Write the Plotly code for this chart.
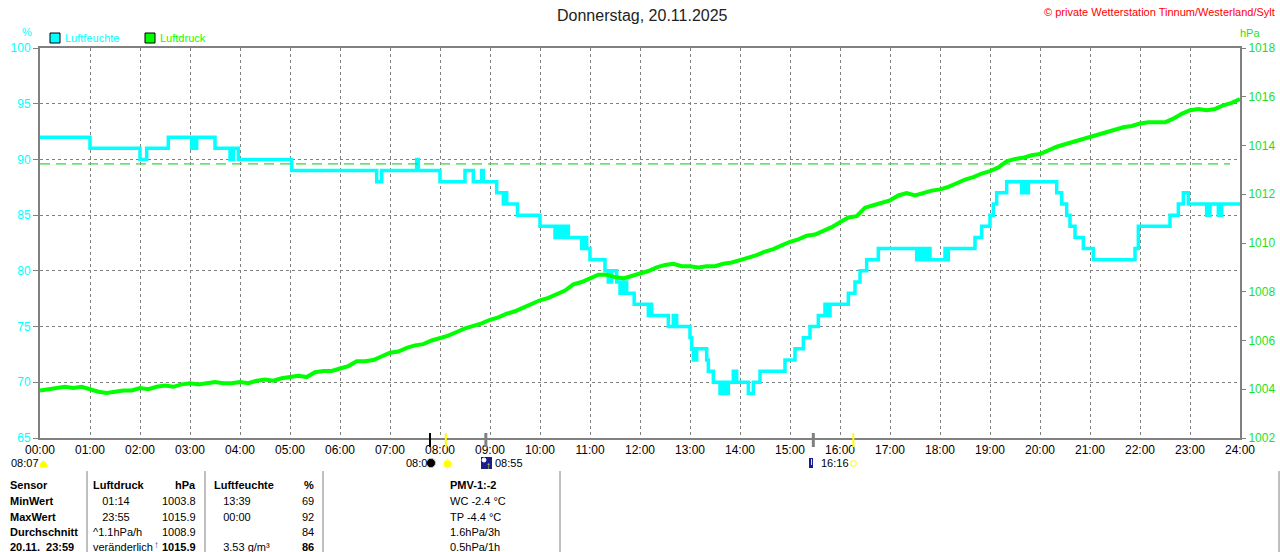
import plotly.graph_objects as go

# Luftfeuchte in % - Zeitpunkt des Wechsels und neuer Wert (Treppenkurve)
hum_time = ["00:00", "01:00", "02:00", "02:08", "02:34", "03:02", "03:04", "03:06", "03:08",
            "03:30", "03:48", "03:52", "03:58", "05:02", "06:44", "06:50", "07:32", "07:34",
            "08:00", "08:30", "08:40", "08:50", "08:52", "09:08", "09:16", "09:18", "09:20",
            "09:33", "10:00", "10:18", "10:22", "10:26", "10:30", "10:34", "10:46", "10:50",
            "10:52", "10:56", "11:00", "11:04", "11:18", "11:22", "11:26", "11:32", "11:36",
            "11:40", "11:44", "11:50", "11:53", "11:58", "12:10", "12:12", "12:14", "12:34",
            "12:40", "12:44", "12:52", "13:00", "13:02", "13:04", "13:08", "13:12", "13:20",
            "13:22", "13:28", "13:30", "13:36", "13:40", "13:42", "13:46", "13:52", "13:56",
            "14:10", "14:16", "14:20", "14:24", "14:54", "15:06", "15:16", "15:24", "15:34",
            "15:42", "15:44", "15:48", "16:10", "16:18", "16:24", "16:32", "16:46", "17:32",
            "17:36", "17:40", "17:44", "17:48", "18:06", "18:08", "18:10", "18:42", "18:50",
            "19:00", "19:04", "19:08", "19:20", "19:38", "19:40", "19:44", "19:46", "20:20",
            "20:26", "20:32", "20:36", "20:42", "20:52", "21:04", "21:54", "21:58", "22:02",
            "22:36", "22:46", "22:52", "22:58", "23:20", "23:24", "23:34", "23:38", "24:00"]
hum_val = [92, 91, 90, 91, 92, 91, 92, 91, 92,
           91, 90, 91, 90, 89, 88, 89, 90, 89,
           88, 89, 88, 89, 88, 87, 86, 87, 86,
           85, 84, 83, 84, 83, 84, 83, 83, 82,
           83, 82, 81, 81, 80, 79, 80, 79, 78,
           79, 78, 78, 77, 77, 76, 77, 76, 75,
           76, 75, 75, 74, 73, 72, 73, 73, 72,
           71, 70, 70, 69, 70, 69, 70, 71, 70,
           69, 70, 70, 71, 72, 73, 74, 75, 76,
           77, 76, 77, 78, 79, 80, 81, 82, 81,
           82, 81, 82, 81, 82, 81, 82, 83, 84,
           85, 86, 87, 88, 87, 88, 87, 88, 87,
           86, 85, 84, 83, 82, 81, 82, 84, 84,
           85, 86, 87, 86, 85, 86, 85, 86, 86]

pres_val = [1003.95, 1004.00, 1004.05, 1004.10, 1004.05, 1004.10,
            1004.00, 1003.90, 1003.85, 1003.90, 1003.95, 1003.95,
            1004.05, 1004.00, 1004.10, 1004.15, 1004.10, 1004.20,
            1004.25, 1004.20, 1004.25, 1004.30, 1004.25, 1004.25,
            1004.30, 1004.25, 1004.35, 1004.40, 1004.35, 1004.45,
            1004.50, 1004.55, 1004.50, 1004.70, 1004.75, 1004.75,
            1004.85, 1004.95, 1005.15, 1005.15, 1005.20, 1005.35,
            1005.50, 1005.55, 1005.70, 1005.80, 1005.85, 1006.00,
            1006.10, 1006.20, 1006.35, 1006.50, 1006.60, 1006.70,
            1006.85, 1006.95, 1007.10, 1007.20, 1007.35, 1007.50,
            1007.65, 1007.75, 1007.90, 1008.05, 1008.30, 1008.40,
            1008.55, 1008.70, 1008.70, 1008.60, 1008.55, 1008.65,
            1008.75, 1008.85, 1009.00, 1009.10, 1009.15, 1009.05,
            1009.05, 1009.00, 1009.05, 1009.05, 1009.15, 1009.20,
            1009.30, 1009.40, 1009.50, 1009.65, 1009.75, 1009.90,
            1010.05, 1010.15, 1010.30, 1010.35, 1010.50, 1010.65,
            1010.85, 1011.05, 1011.10, 1011.45, 1011.55, 1011.65,
            1011.75, 1011.95, 1012.05, 1011.95, 1012.05, 1012.15,
            1012.20, 1012.30, 1012.45, 1012.60, 1012.70, 1012.85,
            1012.95, 1013.10, 1013.35, 1013.45, 1013.50, 1013.60,
            1013.65, 1013.80, 1013.95, 1014.05, 1014.15, 1014.25,
            1014.35, 1014.45, 1014.55, 1014.65, 1014.75, 1014.80,
            1014.90, 1014.95, 1014.95, 1014.95, 1015.10, 1015.30,
            1015.45, 1015.50, 1015.45, 1015.50, 1015.65, 1015.75,
            1015.90]
pres_time = ["%02d:%02d" % (i // 6, (i % 6) * 10) for i in range(len(pres_val))]

# Normaldruck-Linie
ref_time = ["00:00", "23:48"]
ref_val = [1013.25, 1013.25]

# Ereignisse an der Zeitachse (Mond/Sonne)
event_time = ["07:48", "08:07", "08:55", "15:28", "16:16"]
event_color = ["black", "#ffff00", "#808080", "#808080", "#ffff00"]
event_width = [2, 2, 3, 3, 2]

x_ticks = ["%02d:00" % h for h in range(25)]

# Tabelle unten
row_label = ["Sensor", "MinWert", "MaxWert", "Durchschnitt", "20.11.  23:59"]
druck_info = ["Luftdruck", "  01:14", "  23:55", "^1.1hPa/h", "veränderlich"]
druck_val = ["hPa", "1003.8", "1015.9", "1008.9", "1015.9"]
feuchte_info = ["Luftfeuchte", "  13:39", "  00:00", "", "  3.53 g/m³"]
feuchte_val = ["%", "69", "92", "84", "86"]
extra_info = ["PMV-1:-2", "WC -2.4 °C", "TP -4.4 °C", "1.6hPa/3h", "0.5hPa/1h"]


def hours(t):
    h, m = t.split(":")
    return int(h) + int(m) / 60


def px(x):
    return (x - 40) / 1200


def py(y):
    return (438 - y) / 390


FONT = "Liberation Sans, Arial, sans-serif"
CYAN = "#00ffff"
GREEN = "#00ff00"
GREEN_TXT = "#1fe01f"
GRAY = "#808080"

fig = go.Figure()

fig.add_trace(go.Scatter(x=[hours(t) for t in ref_time], y=ref_val, yaxis="y2", mode="lines",
                         line=dict(color="#33dd33", width=1.3, dash="10px,6px"),
                         hoverinfo="skip", showlegend=False))
fig.add_trace(go.Scatter(x=[hours(t) for t in pres_time], y=pres_val, yaxis="y2", mode="lines",
                         line=dict(color=GREEN, width=4), name="Luftdruck",
                         showlegend=False))
fig.add_trace(go.Scatter(x=[hours(t) for t in hum_time], y=hum_val, mode="lines",
                         line=dict(color=CYAN, width=3.5, shape="hv"), name="Luftfeuchte",
                         showlegend=False))

fig.update_layout(
    width=1280, height=552,
    margin=dict(l=40, r=40, t=48, b=114),
    paper_bgcolor="white", plot_bgcolor="white",
    font=dict(family=FONT, size=11, color="black"),
    xaxis=dict(range=[0, 24], tickvals=list(range(25)), ticktext=x_ticks,
               showgrid=True, gridcolor=GRAY, griddash="3px,3px", gridwidth=1,
               showline=True, linecolor=GRAY, linewidth=2, mirror=True,
               ticks="", tickfont=dict(size=12, color="black"), zeroline=False,
               automargin=False),
    yaxis=dict(range=[65, 100], dtick=5, showgrid=True, gridcolor=GRAY, griddash="3px,3px",
               gridwidth=1, showline=True, linecolor=GRAY, linewidth=2, mirror=True,
               ticks="outside", ticklen=5, tickcolor=GRAY, tickfont=dict(size=12, color=CYAN),
               zeroline=False, automargin=False),
    yaxis2=dict(range=[1002, 1018], dtick=2, overlaying="y", side="right", showgrid=False,
                ticks="outside", ticklen=5, tickcolor=GRAY, tickfont=dict(size=12, color=GREEN_TXT),
                zeroline=False, automargin=False),
)

shapes = []
ann = []


def text(x, y, s, anchor="center", size=11, color="black"):
    ann.append(dict(xref="paper", yref="paper", x=px(x), y=py(y), xanchor=anchor, yanchor="middle",
                    text=s, showarrow=False, font=dict(size=size, color=color)))


def dot(x, y, r, fill, edge=None):
    shapes.append(dict(type="circle", xref="paper", yref="paper", x0=px(x - r), x1=px(x + r),
                       y0=py(y + r), y1=py(y - r), fillcolor=fill,
                       line=dict(color=edge or fill, width=1)))


# Titel und Beschriftungen oben
text(642, 15, "Donnerstag, 20.11.2025", size=16, color="#222222")
text(1277, 12, "© private Wetterstation Tinnum/Westerland/Sylt", anchor="right", color="#ff0000")
text(27, 32, "%", color=CYAN)
text(1250, 33, "hPa", color=GREEN_TXT)

# Legende
for x0, col, label in [(50, CYAN, "Luftfeuchte"), (145, GREEN, "Luftdruck")]:
    shapes.append(dict(type="rect", xref="paper", yref="paper", x0=px(x0), x1=px(x0 + 10),
                       y0=py(43), y1=py(33), fillcolor=col, line=dict(color="black", width=1)))
    text(x0 + 13, 38, label, anchor="left", color=col)

# Ereignis-Striche an der Zeitachse
for t, col, w in zip(event_time, event_color, event_width):
    shapes.append(dict(type="line", xref="x", yref="paper", x0=hours(t), x1=hours(t),
                       y0=py(447), y1=py(433), line=dict(color=col, width=w), layer="above"))

# Sonnenaufgang links
text(9, 463, "08:07", anchor="left", size=11)
shapes.append(dict(type="path", xref="paper", yref="paper",
                   path="M %f,%f L %f,%f L %f,%f L %f,%f L %f,%f Z" % (
                       px(40), py(467), px(41), py(463), px(43.5), py(461), px(46), py(463), px(47), py(467)),
                   fillcolor="#ffff00", line=dict(color="#ffff00", width=1)))
# Mond + Sonne um 08:03
text(436, 463, "08:03", anchor="right", size=11)
dot(431, 463, 4.5, "black", "#c0c0c0")
dot(447.5, 464, 3.5, "#ffff00")
for dx, dy in [(-6, 0), (6, 0), (0, -6), (0, 6)]:
    shapes.append(dict(type="line", xref="paper", yref="paper", x0=px(447.5 + dx * 0.6),
                       x1=px(447.5 + dx), y0=py(464 + dy * 0.6), y1=py(464 + dy),
                       line=dict(color="#ffff80", width=1)))
# Mondaufgang 08:55
shapes.append(dict(type="rect", xref="paper", yref="paper", x0=px(481), x1=px(492),
                   y0=py(469), y1=py(457), fillcolor="#1c1c8c", line=dict(width=0)))
dot(484, 460, 2, "white")
text(488, 465, "<b>↑</b>", size=10, color="#ffff00")
text(493, 463, "08:55", anchor="left", size=11)
# Monduntergang / Sonnenuntergang 16:16
shapes.append(dict(type="rect", xref="paper", yref="paper", x0=px(809), x1=px(813),
                   y0=py(468), y1=py(458), fillcolor="#1c1c8c", line=dict(width=0)))
shapes.append(dict(type="line", xref="paper", yref="paper", x0=px(811.5), x1=px(811.5),
                   y0=py(465), y1=py(459), line=dict(color="#ffff00", width=1)))
text(819, 463, "16:16", anchor="left", size=11)
shapes.append(dict(type="rect", xref="paper", yref="paper", x0=px(851), x1=px(856),
                   y0=py(466), y1=py(461), line=dict(color="#ffff00", width=1)))

# Tabelle
for xs in [87, 205, 323, 560, 1279]:
    shapes.append(dict(type="line", xref="paper", yref="paper", x0=px(xs), x1=px(xs),
                       y0=py(471), y1=py(560), line=dict(color=GRAY, width=1)))

row_y = [485, 501, 517, 532, 547]


def cell(x, y, s, anchor="left", bold=False):
    if s == "":
        return
    text(x, y, "<b>%s</b>" % s if bold else s, anchor=anchor)


for i, y in enumerate(row_y):
    head = i == 0
    last = i == len(row_y) - 1
    cell(8, y, row_label[i].replace("  ", "&nbsp;&nbsp;"), bold=True)
    cell(91, y, druck_info[i].replace("  ", "&nbsp;&nbsp;&nbsp;"), bold=head)
    cell(198, y, druck_val[i], anchor="right", bold=head or last)
    cell(212, y, feuchte_info[i].replace("  ", "&nbsp;&nbsp;&nbsp;"), bold=head)
    cell(316, y, feuchte_val[i], anchor="right", bold=head or last)
    cell(448, y, extra_info[i], bold=head)
text(156, 544, "<b>↑</b>", size=10, color="#1c3c9c")

fig.update_layout(shapes=shapes, annotations=ann)

fig.write_html("out.html", config={"displayModeBar": False},
               post_script="document.body.style.margin='0px';")
